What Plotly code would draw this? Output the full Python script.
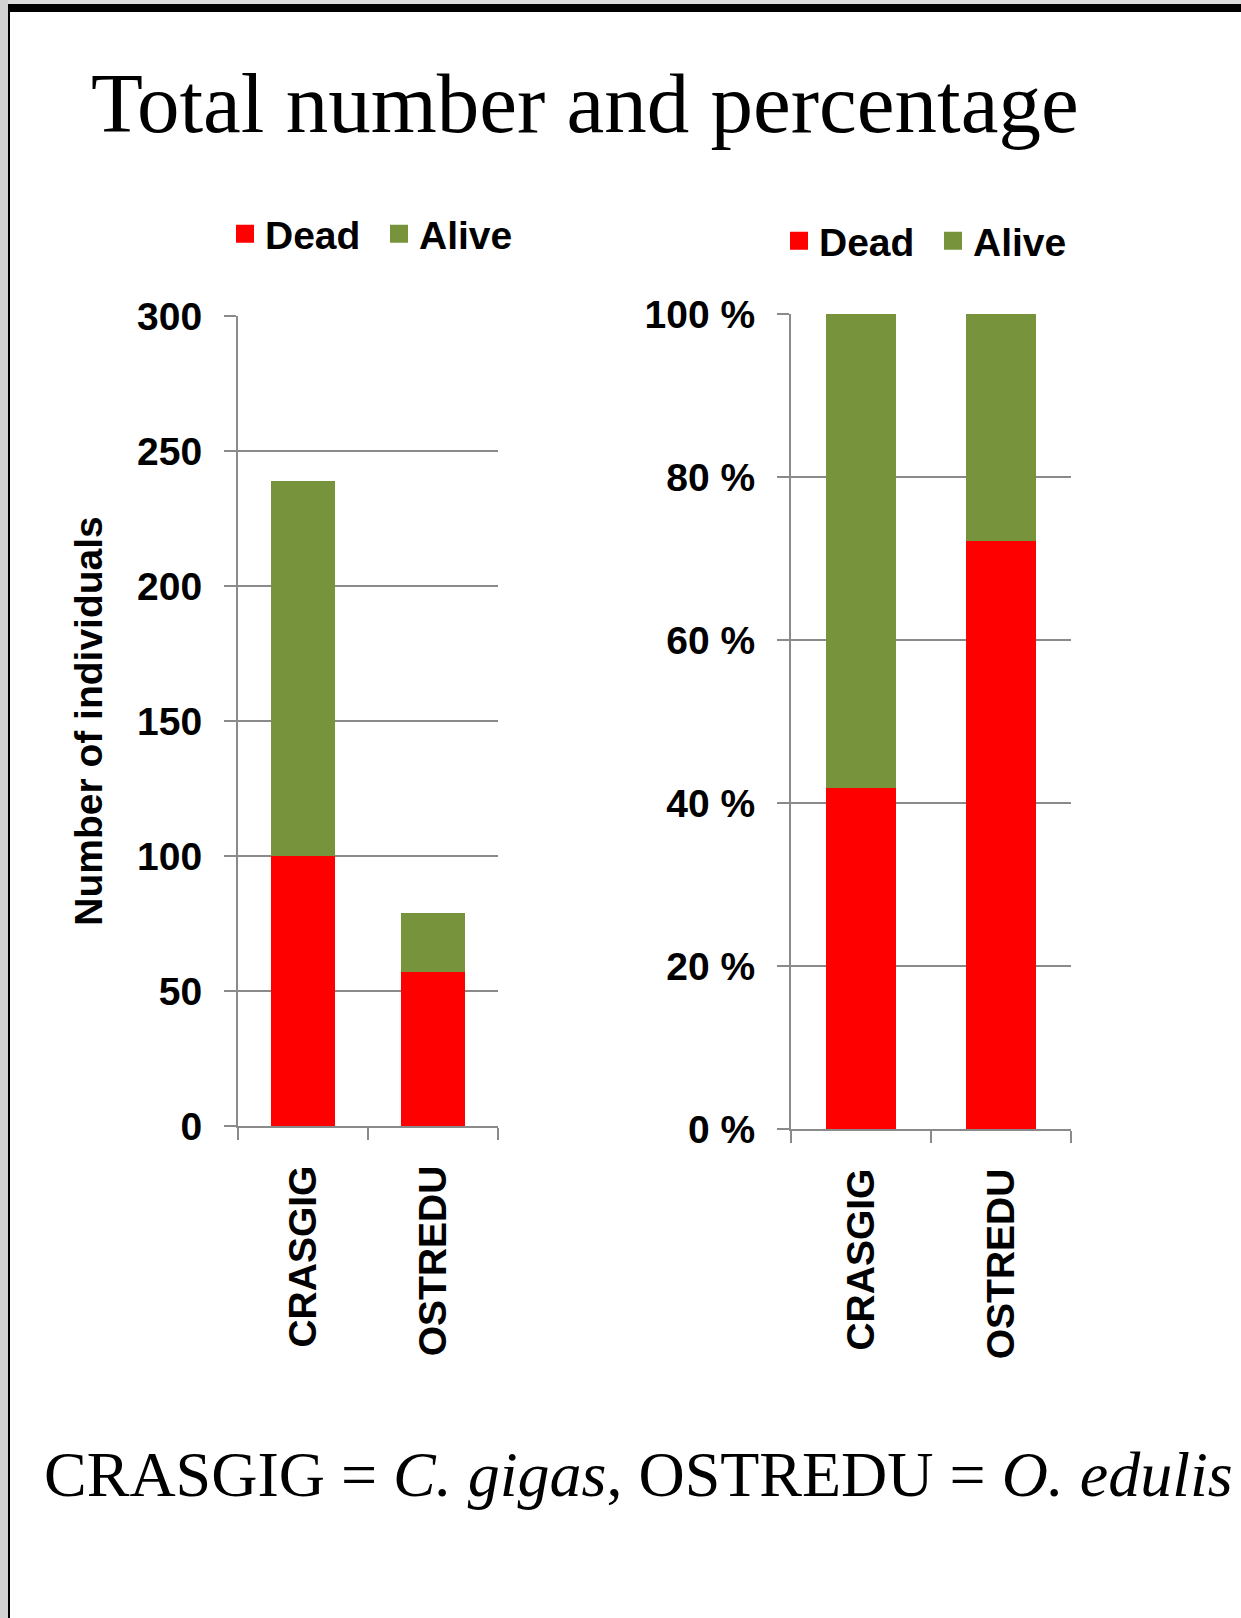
import numpy as np
import plotly.graph_objects as go

# ---- data -------------------------------------------------------------
species = ["CRASGIG", "OSTREDU"]
dead_counts = [100, 57]
alive_counts = [139, 22]
count_ticks = [0, 50, 100, 150, 200, 250, 300]
pct_ticks = [0, 20, 40, 60, 80, 100]
pct_labels = [f"{v} %" for v in pct_ticks]

dead_arr = np.array(dead_counts, dtype=float)
alive_arr = np.array(alive_counts, dtype=float)
total_arr = dead_arr + alive_arr
dead_pct = dead_arr / total_arr * 100
alive_pct = alive_arr / total_arr * 100

# ---- styling ----------------------------------------------------------
W, H = 1241, 1618
RED = "#FF0000"
GREEN = "#77933C"
GRID = "#8A8A8A"
SANS = "Liberation Sans"
SERIF = "Liberation Serif"


def px_x(v):
    return v / W


def px_y(v):
    return 1 - v / H


fig = go.Figure()

# left panel: absolute counts
fig.add_trace(go.Bar(x=species, y=dead_counts, name="Dead", marker=dict(color=RED, line=dict(width=0)),
                     width=0.49, xaxis="x", yaxis="y", showlegend=False))
fig.add_trace(go.Bar(x=species, y=alive_counts, name="Alive", marker=dict(color=GREEN, line=dict(width=0)),
                     width=0.49, xaxis="x", yaxis="y", showlegend=False))
# right panel: shares of each species
fig.add_trace(go.Bar(x=species, y=dead_pct, name="Dead", marker=dict(color=RED, line=dict(width=0)),
                     width=0.5, xaxis="x2", yaxis="y2", showlegend=False))
fig.add_trace(go.Bar(x=species, y=alive_pct, name="Alive", marker=dict(color=GREEN, line=dict(width=0)),
                     width=0.5, xaxis="x2", yaxis="y2", showlegend=False))

# legend entries with larger square swatches
for lg, xa, ya in (("legend", "x", "y"), ("legend2", "x2", "y2")):
    for name, col in (("Dead", RED), ("Alive", GREEN)):
        fig.add_trace(go.Scatter(x=[None], y=[None], mode="markers", name=name,
                                 marker=dict(symbol="square", size=16, color=col,
                                             line=dict(width=2, color=col)),
                                 xaxis=xa, yaxis=ya, legend=lg, showlegend=True))

FS = 39
tickfont = dict(family=SANS, size=FS, color="black", weight="bold")

common_x = dict(type="category", categoryorder="array", categoryarray=species, range=[-0.5, 1.5],
                showline=True, linecolor=GRID, linewidth=2, ticks="outside", ticklen=12,
                tickwidth=2, tickcolor=GRID, tickson="boundaries", tickangle=-90,
                tickfont=tickfont, showgrid=False, zeroline=False, ticklabelstandoff=22,
                fixedrange=True)
common_y = dict(showline=True, linecolor=GRID, linewidth=2, ticks="outside", ticklen=12,
                tickwidth=2, tickcolor=GRID, showgrid=True, gridcolor=GRID, gridwidth=2,
                zeroline=False, tickfont=tickfont, ticklabelstandoff=14, fixedrange=True)

legend_common = dict(orientation="h", xanchor="left", yanchor="middle", traceorder="normal",
                     font=dict(family=SANS, size=FS, color="black", weight="bold"),
                     bgcolor="rgba(0,0,0,0)", entrywidth=109,
                     itemclick=False, itemdoubleclick=False)

fig.update_layout(
    width=W, height=H, template="none",
    margin=dict(l=0, r=0, t=0, b=0),
    paper_bgcolor="white", plot_bgcolor="white",
    barmode="stack", bargap=0.5,
    xaxis=dict(domain=[px_x(238), px_x(498)], anchor="y", **common_x),
    yaxis=dict(domain=[px_y(1126), px_y(316)], anchor="x", range=[0, 300],
               tickvals=count_ticks,
               title=dict(text="Number of individuals", standoff=22,
                          font=dict(family=SANS, size=FS, color="black", weight="bold")),
               **common_y),
    xaxis2=dict(domain=[px_x(791), px_x(1071)], anchor="y2", **common_x),
    yaxis2=dict(domain=[px_y(1129), px_y(314)], anchor="x2", range=[0, 100],
                tickvals=pct_ticks, ticktext=pct_labels, **common_y),
    legend=dict(x=px_x(225), y=px_y(234), **legend_common),
    legend2=dict(x=px_x(779), y=px_y(241), **legend_common),
    showlegend=True,
)

# heading and species key
fig.add_annotation(text="Total number and percentage", xref="paper", yref="paper",
                   x=px_x(89), y=px_y(103), xanchor="left", yanchor="middle", showarrow=False,
                   font=dict(family=SERIF, size=85, color="black"))
fig.add_annotation(text="CRASGIG = <i>C. gigas</i>, OSTREDU = <i>O. edulis</i>",
                   xref="paper", yref="paper", x=px_x(42), y=px_y(1474),
                   xanchor="left", yanchor="middle", showarrow=False,
                   font=dict(family=SERIF, size=64, color="black"))

# slide frame
fig.add_shape(type="rect", xref="paper", yref="paper", x0=0, x1=1, y0=px_y(4), y1=1,
              fillcolor="#DCDCDC", line=dict(width=0), layer="below")
fig.add_shape(type="rect", xref="paper", yref="paper", x0=0, x1=px_x(8), y0=0, y1=1,
              fillcolor="#D2D2D2", line=dict(width=0), layer="below")
fig.add_shape(type="rect", xref="paper", yref="paper", x0=px_x(8), x1=1, y0=px_y(12), y1=px_y(4),
              fillcolor="black", line=dict(width=0), layer="below")
fig.add_shape(type="rect", xref="paper", yref="paper", x0=px_x(8), x1=px_x(10), y0=0, y1=px_y(4),
              fillcolor="black", line=dict(width=0), layer="below")

fig.write_html("out.html")
